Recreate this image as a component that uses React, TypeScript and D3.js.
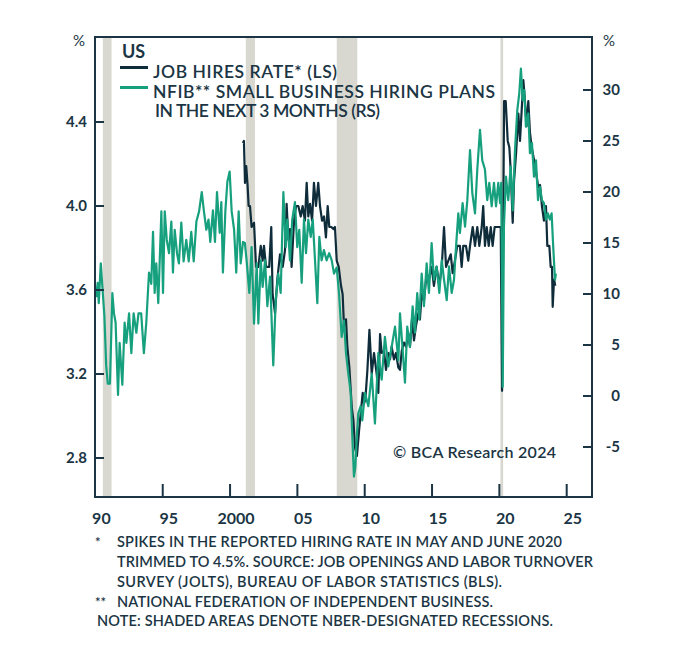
import React from "react";
import * as d3 from "d3";

// ---------- DATA ----------
const recessionStarts = [1990.55, 2001.17, 2007.92, 2020.08];
const recessionEnds = [1991.2, 2001.85, 2009.45, 2020.28];

const xTickValues = [1990, 1995, 2000, 2005, 2010, 2015, 2020, 2025];
const xTickLabels = ["90", "95", "2000", "05", "10", "15", "20", "25"];
const leftTicks = [2.8, 3.2, 3.6, 4.0, 4.4];
const rightTicks = [-5, 0, 5, 10, 15, 20, 25, 30];

const nfibDates = [
  1990.05, 1990.17, 1990.25, 1990.4, 1990.55, 1990.67, 1990.8, 1990.92, 1991.08, 1991.26,
  1991.38, 1991.5, 1991.68, 1991.8, 1992.0, 1992.17, 1992.3, 1992.5, 1992.67, 1992.84,
  1993.04, 1993.2, 1993.4, 1993.6, 1993.78, 1993.98, 1994.15, 1994.28, 1994.4, 1994.52,
  1994.67, 1994.9, 1995.02, 1995.15, 1995.3, 1995.47, 1995.64, 1995.76, 1995.89, 1996.06,
  1996.2, 1996.38, 1996.55, 1996.75, 1996.93, 1997.12, 1997.3, 1997.5, 1997.7, 1997.9,
  1998.06, 1998.24, 1998.4, 1998.53, 1998.73, 1998.88, 1999.03, 1999.23, 1999.35, 1999.47,
  1999.65, 1999.8, 1999.97, 2000.12, 2000.3, 2000.46, 2000.64, 2000.79, 2000.96, 2001.1,
  2001.23, 2001.43, 2001.6, 2001.78, 2001.98, 2002.1, 2002.28, 2002.42, 2002.6, 2002.77,
  2002.97, 2003.21, 2003.39, 2003.58, 2003.76, 2003.96, 2004.13, 2004.25, 2004.45, 2004.62,
  2004.82, 2004.99, 2005.14, 2005.32, 2005.49, 2005.64, 2005.81, 2005.99, 2006.14, 2006.31,
  2006.48, 2006.63, 2006.8, 2006.97, 2007.17, 2007.36, 2007.55, 2007.72, 2007.92, 2008.09,
  2008.29, 2008.46, 2008.61, 2008.78, 2008.96, 2009.08, 2009.2, 2009.3, 2009.4, 2009.52,
  2009.7, 2009.82, 2010.02, 2010.27, 2010.52, 2010.76, 2011.01, 2011.26, 2011.5, 2011.75,
  2012.0, 2012.25, 2012.5, 2012.62, 2012.82, 2012.99, 2013.16, 2013.36, 2013.56, 2013.73,
  2013.9, 2014.05, 2014.23, 2014.4, 2014.6, 2014.77, 2014.97, 2015.14, 2015.34, 2015.54,
  2015.72, 2015.89, 2016.09, 2016.26, 2016.46, 2016.63, 2016.78, 2016.95, 2017.07, 2017.27,
  2017.45, 2017.62, 2017.82, 2017.99, 2018.19, 2018.36, 2018.56, 2018.73, 2018.93, 2019.1,
  2019.25, 2019.43, 2019.6, 2019.75, 2019.92, 2020.05, 2020.14, 2020.25, 2020.34, 2020.49,
  2020.66, 2020.84, 2020.99, 2021.16, 2021.33, 2021.48, 2021.6, 2021.73, 2021.85, 2021.97,
  2022.15, 2022.27, 2022.42, 2022.57, 2022.72, 2022.87, 2023.02, 2023.16, 2023.31, 2023.46,
  2023.6, 2023.75, 2023.88, 2024.0, 2024.13, 2024.2,
];
const nfibValues = [
  9.7, 11.1, 9.1, 13.0, 10.1, 7.8, 3.0, 1.2, 1.2, 10.1,
  8.1, 7.2, 0.1, 5.2, 1.1, 7.2, 5.2, 8.1, 4.2, 8.1,
  6.2, 8.1, 8.1, 4.2, 7.2, 12.1, 11.0, 16.1, 10.1, 13.0,
  9.1, 18.1, 10.1, 18.1, 15.3, 14.0, 17.1, 12.1, 16.3, 14.0,
  13.0, 17.0, 13.2, 15.3, 13.2, 16.1, 13.2, 17.1, 18.1, 20.0,
  18.1, 16.3, 17.3, 15.1, 18.2, 15.1, 20.0, 16.0, 19.0, 12.1,
  18.1, 21.0, 22.0, 18.1, 16.3, 12.1, 18.1, 13.0, 15.1, 15.0,
  13.3, 10.1, 14.6, 7.1, 13.0, 7.1, 13.3, 10.7, 13.3, 8.8,
  11.7, 3.0, 9.4, 12.0, 10.1, 20.0, 14.6, 17.3, 13.3, 17.3,
  19.0, 14.6, 16.3, 11.1, 17.3, 14.0, 17.3, 15.6, 17.3, 13.3,
  9.1, 15.6, 13.3, 14.3, 13.3, 14.0, 13.3, 12.0, 12.6, 10.1,
  5.8, 7.4, 4.2, 2.2, 0.3, -4.0, -7.9, -7.0, -4.3, -1.7,
  -1.0, -2.4, 0.3, -1.0, 2.2, -2.7, 4.2, 1.6, 5.8, 2.9,
  4.8, 6.8, 3.5, 8.1, 4.5, 1.3, 6.8, 4.8, 8.8, 6.2,
  10.1, 7.5, 12.0, 8.8, 13.0, 10.1, 15.0, 11.4, 12.7, 10.1,
  13.3, 11.4, 9.4, 12.7, 10.1, 11.4, 14.6, 17.9, 16.0, 18.9,
  16.6, 19.2, 24.1, 19.9, 17.9, 22.2, 26.1, 23.1, 22.2, 19.2,
  20.9, 18.6, 20.9, 18.6, 20.9, 18.9, 20.9, 0.9, 16.6, 21.5,
  19.2, 22.5, 18.2, 24.1, 28.0, 29.7, 32.1, 29.0, 30.0, 26.4,
  27.7, 23.8, 24.8, 21.5, 23.1, 19.2, 20.5, 19.2, 18.9, 17.3,
  17.9, 17.3, 17.9, 14.6, 11.4, 12.0,
];

const hiresDates = [
  2000.95, 2001.03, 2001.11, 2001.2, 2001.3, 2001.38, 2001.48, 2001.6, 2001.78, 2001.93,
  2002.1, 2002.28, 2002.42, 2002.52, 2002.67, 2002.91, 2003.06, 2003.16, 2003.34, 2003.51,
  2003.71, 2003.91, 2004.08, 2004.2, 2004.33, 2004.45, 2004.57, 2004.75, 2004.9, 2005.07,
  2005.25, 2005.39, 2005.56, 2005.69, 2005.81, 2005.94, 2006.09, 2006.23, 2006.38, 2006.55,
  2006.68, 2006.83, 2006.98, 2007.12, 2007.25, 2007.37, 2007.52, 2007.67, 2007.79, 2007.92,
  2008.07, 2008.24, 2008.36, 2008.46, 2008.61, 2008.71, 2008.86, 2009.04, 2009.16, 2009.28,
  2009.42, 2009.58, 2009.7, 2009.85, 2009.95, 2010.05, 2010.2, 2010.35, 2010.52, 2010.69,
  2010.89, 2011.01, 2011.14, 2011.26, 2011.43, 2011.58, 2011.75, 2011.88, 2012.0, 2012.17,
  2012.32, 2012.5, 2012.62, 2012.75, 2012.92, 2013.07, 2013.24, 2013.36, 2013.51, 2013.66,
  2013.81, 2013.98, 2014.1, 2014.23, 2014.4, 2014.6, 2014.77, 2014.97, 2015.14, 2015.34,
  2015.54, 2015.72, 2015.89, 2016.04, 2016.21, 2016.39, 2016.53, 2016.7, 2016.87, 2017.07,
  2017.2, 2017.32, 2017.52, 2017.69, 2017.82, 2018.02, 2018.19, 2018.36, 2018.51, 2018.69,
  2018.8, 2018.93, 2019.06, 2019.21, 2019.36, 2019.5, 2019.65, 2019.8, 2019.95, 2020.1,
  2020.2, 2020.35, 2020.47, 2020.62, 2020.74, 2020.84, 2020.99, 2021.09, 2021.24, 2021.41,
  2021.53, 2021.66, 2021.78, 2021.9, 2022.02, 2022.15, 2022.27, 2022.4, 2022.57, 2022.72,
  2022.89, 2023.02, 2023.16, 2023.31, 2023.46, 2023.56, 2023.71, 2023.81, 2023.91, 2023.96,
  2024.06, 2024.15,
];
const hiresValues = [
  4.3, 4.31, 4.11, 4.19, 4.1, 4.0, 4.0, 3.9, 3.92, 3.71,
  3.71, 3.81, 3.74, 3.81, 3.71, 3.71, 3.9, 3.58, 3.49, 3.65,
  3.77, 3.71, 3.79, 4.01, 3.84, 3.89, 3.71, 3.93, 4.0, 4.0,
  3.95, 4.0, 3.93, 4.11, 3.95, 4.01, 3.93, 4.11, 4.0, 4.11,
  4.0, 3.93, 3.95, 3.85, 4.0, 3.9, 3.9, 3.89, 3.9, 3.74,
  3.71, 3.62, 3.58, 3.43, 3.46, 3.33, 3.23, 3.04, 2.98, 2.85,
  2.81, 2.93, 3.01, 3.11, 3.06, 3.08, 3.22, 3.41, 3.2, 3.3,
  3.2, 3.11, 3.39, 3.3, 3.31, 3.22, 3.3, 3.27, 3.33, 3.27,
  3.3, 3.23, 3.22, 3.31, 3.35, 3.33, 3.39, 3.33, 3.46, 3.36,
  3.43, 3.49, 3.46, 3.58, 3.55, 3.68, 3.65, 3.71, 3.62, 3.71,
  3.62, 3.71, 3.9, 3.71, 3.74, 3.77, 3.68, 3.74, 3.81, 3.81,
  3.71, 3.81, 3.81, 3.74, 3.81, 3.9, 3.81, 3.9, 3.81, 3.9,
  4.0, 3.81, 3.9, 3.81, 3.9, 3.81, 3.9, 3.9, 3.9, 3.9,
  3.12, 4.5, 4.5, 4.31, 4.28, 4.17, 3.92, 4.12, 4.25, 4.44,
  4.31, 4.46, 4.6, 4.5, 4.38, 4.5, 4.35, 4.28, 4.22, 4.16,
  4.09, 4.1, 4.0, 3.93, 4.0, 3.81, 3.81, 3.71, 3.71, 3.52,
  3.65, 3.62,
];

const legendTitle = "US";
const legendHires = "JOB HIRES RATE* (LS)";
const legendNfib1 = "NFIB** SMALL BUSINESS HIRING PLANS";
const legendNfib2 = "IN THE NEXT 3 MONTHS (RS)";
const copyright = "\u00A9 BCA Research 2024";
const footMarks = ["*", "", "", "**", ""];
const footLines = [
  "SPIKES IN THE REPORTED HIRING RATE IN MAY AND JUNE 2020",
  "TRIMMED TO 4.5%. SOURCE: JOB OPENINGS AND LABOR TURNOVER",
  "SURVEY (JOLTS), BUREAU OF LABOR STATISTICS (BLS).",
  "NATIONAL FEDERATION OF INDEPENDENT BUSINESS.",
  "NOTE: SHADED AREAS DENOTE NBER-DESIGNATED RECESSIONS.",
];

// ---------- STYLE ----------
const TEXT = "#1b3544";
const DARK = "#0f2c3a";
const GREEN = "#17a07e";
const SHADE = "#d8d8d1";
const FONT = "Lato, 'Open Sans', sans-serif";

const FR = { left: 95, right: 592, top: 37, bottom: 497 };

export default function App() {
  const x = d3.scaleLinear().domain([1990, 2025]).range([95.4, 566.7]);
  const yL = d3.scaleLinear().domain([2.8, 4.4]).range([458, 122]);
  const yR = d3.scaleLinear().domain([-5, 30]).range([447, 90]);

  const nfib = nfibDates.map((d, i) => [d, nfibValues[i]] as [number, number]);
  const hires = hiresDates.map((d, i) => [d, hiresValues[i]] as [number, number]);

  const lineR = d3.line<[number, number]>().x((d) => x(d[0])).y((d) => yR(d[1]));
  const lineL = d3.line<[number, number]>().x((d) => x(d[0])).y((d) => yL(d[1]));

  const footX = [117, 117, 117, 117, 97];
  const footY0 = 546.5;
  const footDy = 20;
  const footLens = [445, 476, 385, 376, 456];

  return (
    <svg
      width={680}
      height={648}
      style={{ position: "absolute", left: 0, top: 0, display: "block", background: "#fff" }}
      fontFamily={FONT}
    >
      {/* recessions */}
      {recessionStarts.map((s, i) => (
        <rect
          key={"r" + i}
          x={x(s)}
          y={FR.top}
          width={x(recessionEnds[i]) - x(s)}
          height={FR.bottom - FR.top}
          fill={SHADE}
        />
      ))}

      {/* series */}
      <path d={lineL(hires) || ""} fill="none" stroke={DARK} strokeWidth={2.2} strokeLinejoin="round" />
      <path d={lineR(nfib) || ""} fill="none" stroke={GREEN} strokeWidth={2.2} strokeLinejoin="round" />

      {/* frame */}
      <rect
        x={FR.left}
        y={FR.top}
        width={FR.right - FR.left}
        height={FR.bottom - FR.top}
        fill="none"
        stroke={TEXT}
        strokeWidth={2}
      />

      {/* left axis */}
      {leftTicks.map((t) => (
        <g key={"l" + t}>
          <line x1={FR.left} x2={FR.left + 9} y1={yL(t)} y2={yL(t)} stroke={TEXT} strokeWidth={2} />
          <text x={87} y={yL(t) + 5} textAnchor="end" fontSize={15} fontWeight={700} fill={TEXT}>
            {t.toFixed(1)}
          </text>
        </g>
      ))}
      <text x={79} y={46} textAnchor="middle" fontSize={15} fill={TEXT}>%</text>

      {/* right axis */}
      {rightTicks.map((t) => (
        <g key={"rt" + t}>
          <line x1={FR.right - 9} x2={FR.right} y1={yR(t)} y2={yR(t)} stroke={TEXT} strokeWidth={2} />
          <text x={620} y={yR(t) + 5} textAnchor="end" fontSize={15} fontWeight={700} fill={TEXT}>
            {t}
          </text>
        </g>
      ))}
      <text x={609} y={46} textAnchor="middle" fontSize={15} fill={TEXT}>%</text>

      {/* bottom axis */}
      {xTickValues.map((t, i) => (
        <g key={"x" + t}>
          {i > 0 && (
            <line x1={x(t)} x2={x(t)} y1={FR.bottom} y2={FR.bottom - 13} stroke={TEXT} strokeWidth={2} />
          )}
          <text x={x(t) + 6} y={524} textAnchor="middle" fontSize={16} fontWeight={700} fill={TEXT}>
            {xTickLabels[i]}
          </text>
        </g>
      ))}

      {/* legend */}
      <text x={122} y={58} fontSize={18} fontWeight={700} fill={TEXT}>{legendTitle}</text>
      <line x1={120} x2={148} y1={67.5} y2={67.5} stroke={DARK} strokeWidth={3} />
      <line x1={120} x2={148} y1={87.5} y2={87.5} stroke={GREEN} strokeWidth={3} />
      <text x={153} y={77.5} fontSize={17.5} fontWeight={600} fill={TEXT} textLength={184}>
        {legendHires}
      </text>
      <text x={153} y={97.5} fontSize={17.5} fontWeight={600} fill={TEXT} textLength={342}>
        {legendNfib1}
      </text>
      <text x={155} y={117.3} fontSize={17.5} fontWeight={600} fill={TEXT} textLength={225}>
        {legendNfib2}
      </text>

      {/* copyright */}
      <text x={393} y={458} fontSize={16} fontWeight={600} fill={TEXT} textLength={163}>
        {copyright}
      </text>

      {/* footnotes */}
      {footLines.map((l, i) => (
        <g key={"f" + i}>
          {footMarks[i] && (
            <text x={95} y={footY0 + i * footDy} fontSize={13} fontWeight={600} fill={TEXT}>
              {footMarks[i]}
            </text>
          )}
          <text
            x={footX[i]}
            y={footY0 + i * footDy - (i === 4 ? 0.5 : 0)}
            fontSize={14.5}
            fontWeight={600}
            fill={TEXT}
            textLength={footLens[i]}
          >
            {l}
          </text>
        </g>
      ))}
    </svg>
  );
}
